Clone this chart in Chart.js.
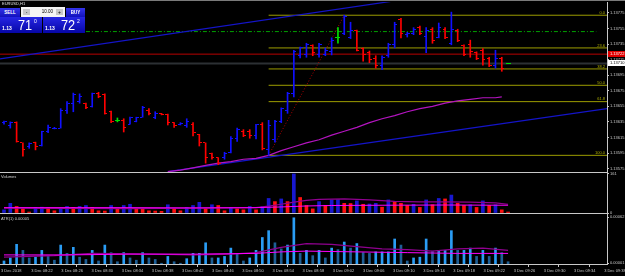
<!DOCTYPE html>
<html>
<head>
<meta charset="utf-8">
<title>EURUSD,H1</title>
<script src="https://cdn.jsdelivr.net/npm/chart.js@4.4.1/dist/chart.umd.min.js"></script>
<style>
  html, body { margin: 0; padding: 0; background: #000; }
  #wrap { position: relative; width: 625px; height: 276px; overflow: hidden; background: #000; }
  canvas { position: absolute; left: 0; }
  .txt { position: absolute; color: #d0d0d0; font-family: "Liberation Sans", sans-serif; font-size: 4px; line-height: 5px; white-space: nowrap; }
  .sep { position: absolute; left: 0; width: 608px; height: 1px; background: #c8c8c8; }
  .btn { position: absolute; top: 8px; height: 9px; background: linear-gradient(#3434ec, #1212bc); color: #fff;
         font: bold 4.5px "Liberation Sans", sans-serif; line-height: 9px; text-align: center; }
  .lot { position: absolute; left: 21px; top: 7px; width: 44px; height: 10px; background: #f4f4f4; }
  .lot .pm { position: absolute; top: 2px; width: 7px; height: 6px; background: #c8c8c8; color: #000; font: 5px "Liberation Sans"; line-height: 6px; text-align: center; }
  .lot .val { position: absolute; right: 12px; top: 0; font: 4.5px "Liberation Sans"; line-height: 10px; color: #000; }
  .quote { position: absolute; top: 17px; width: 42px; height: 16px; background: linear-gradient(#2626e4, #0606a6); color: #fff; }
  .quote span { position: absolute; font-family: "Liberation Sans", sans-serif; }
  .q-small { left: 2px; top: 8px; font-size: 5px; line-height: 6px; font-weight: bold; }
  .q-big { left: 18px; top: 0; font-size: 15px; line-height: 16px; transform: scaleX(0.85); transform-origin: left top; }
  .q-sup { left: 34px; top: 2px; font-size: 5px; line-height: 5px; }
</style>
</head>
<body>
<div id="wrap">
  <canvas id="cPrice" width="625" height="176" style="top:0"></canvas>
  <canvas id="cVol" width="625" height="48" style="top:169px"></canvas>
  <canvas id="cAtr" width="625" height="66" style="top:210px"></canvas>

  <div class="sep" style="top:0;width:625px;background:#7a7a7a"></div>
  <div class="sep" style="top:172px"></div>
  <div class="sep" style="top:213px"></div>

  <div class="txt" style="left:2px;top:1px;color:#e0e0e0">EURUSD,H1</div>
  <div class="btn" style="left:0;width:20px">SELL</div>
  <div class="lot"><span class="pm" style="left:2px">-</span><span class="val">10.00</span><span class="pm" style="right:2px">+</span></div>
  <div class="btn" style="left:66px;width:19px">BUY</div>
  <div class="quote" style="left:0"><span class="q-small">1.13</span><span class="q-big">71</span><span class="q-sup">0</span></div>
  <div class="quote" style="left:43px"><span class="q-small">1.13</span><span class="q-big">72</span><span class="q-sup">2</span></div>

  <div class="txt" style="left:1px;top:174px">Volumes</div>
  <div class="txt" style="left:1px;top:216px">ATR(1) 0.00005</div>
</div>

<script>
// M1 bars, index 0 = 3 Dec 2018 08:18
const opens = [1.13634,1.13630,1.13634,1.13608,1.13603,1.13608,1.13605,1.13622,1.13626,1.13627,
  1.13649,1.13658,1.13661,1.13659,1.13655,1.13672,1.13670,1.13648,1.13637,1.13637,
  1.13632,1.13636,1.13641,1.13650,1.13640,1.13646,1.13645,1.13634,1.13631,1.13630,
  1.13632,1.13619,1.13608,1.13594,1.13589,1.13589,1.13596,1.13613,1.13623,1.13623,
  1.13617,1.13632,1.13599,1.13612,1.13636,1.13650,1.13671,1.13720,1.13721,1.13733,
  1.13721,1.13721,1.13726,1.13743,1.13749,1.13743,1.13753,1.13729,1.13724,1.13717,
  1.13707,1.13720,1.13734,1.13767,1.13747,1.13749,1.13756,1.13745,1.13754,1.13744,
  1.13754,1.13736,1.13753,1.13733,1.13734,1.13724,1.13727,1.13717,1.13707,1.13717,
  1.13710];
const highs = [1.13636,1.13635,1.13635,1.13608,1.13608,1.13609,1.13623,1.13631,1.13628,1.13652,
  1.13661,1.13672,1.13671,1.13659,1.13672,1.13673,1.13671,1.13649,1.13640,1.13639,
  1.13641,1.13641,1.13655,1.13652,1.13648,1.13646,1.13645,1.13634,1.13634,1.13639,
  1.13634,1.13619,1.13608,1.13595,1.13589,1.13596,1.13616,1.13627,1.13625,1.13625,
  1.13632,1.13634,1.13637,1.13637,1.13653,1.13673,1.13727,1.13731,1.13736,1.13734,
  1.13736,1.13730,1.13743,1.13756,1.13772,1.13763,1.13753,1.13730,1.13726,1.13720,
  1.13720,1.13736,1.13763,1.13768,1.13750,1.13756,1.13758,1.13756,1.13756,1.13762,
  1.13756,1.13776,1.13754,1.13734,1.13740,1.13725,1.13729,1.13718,1.13727,1.13718,
  1.13710];
const lows = [1.13632,1.13627,1.13609,1.13591,1.13601,1.13599,1.13604,1.13621,1.13626,1.13627,
  1.13646,1.13648,1.13659,1.13652,1.13654,1.13666,1.13645,1.13634,1.13635,1.13622,
  1.13632,1.13635,1.13641,1.13644,1.13639,1.13644,1.13631,1.13628,1.13631,1.13628,
  1.13617,1.13604,1.13582,1.13587,1.13580,1.13587,1.13595,1.13610,1.13616,1.13614,
  1.13613,1.13599,1.13592,1.13609,1.13634,1.13646,1.13667,1.13717,1.13718,1.13720,
  1.13718,1.13720,1.13721,1.13736,1.13747,1.13742,1.13726,1.13713,1.13711,1.13704,
  1.13702,1.13718,1.13730,1.13743,1.13744,1.13747,1.13747,1.13724,1.13736,1.13743,
  1.13742,1.13734,1.13738,1.13720,1.13718,1.13715,1.13708,1.13706,1.13704,1.13700,
  1.13710];
const closes = [1.13635,1.13634,1.13610,1.13599,1.13607,1.13604,1.13622,1.13628,1.13627,1.13649,
  1.13658,1.13670,1.13668,1.13653,1.13671,1.13667,1.13646,1.13636,1.13637,1.13628,
  1.13640,1.13640,1.13654,1.13646,1.13646,1.13645,1.13634,1.13630,1.13633,1.13636,
  1.13621,1.13609,1.13589,1.13589,1.13582,1.13595,1.13614,1.13625,1.13617,1.13617,
  1.13631,1.13601,1.13630,1.13635,1.13652,1.13671,1.13725,1.13730,1.13734,1.13724,
  1.13735,1.13727,1.13740,1.13743,1.13771,1.13753,1.13727,1.13721,1.13715,1.13707,
  1.13718,1.13734,1.13760,1.13749,1.13749,1.13754,1.13749,1.13752,1.13739,1.13756,
  1.13743,1.13754,1.13740,1.13721,1.13725,1.13717,1.13715,1.13707,1.13717,1.13704,
  1.13710];

const volumes = [13,40,27,17,4,23,24,22,9,17, 27,23,27,31,23,9,8,31,17,31,
  36,17,16,9,8,7,34,17,9,23, 31,44,17,34,31,9,23,17,13,27,
  13,27,60,47,58,47,161,64,31,17, 47,31,54,55,40,39,50,36,37,40,
  24,54,47,40,31,36,23,54,34,60, 58,74,40,31,34,23,50,31,34,13, 4];

const atrValues = [0.00004,0.00008,0.00026,0.00018,0.00008,0.00009,0.00018,0.00010,0.00005,0.00025,
  0.00014,0.00022,0.00009,0.00006,0.00018,0.00004,0.00025,0.00015,0.00003,0.00015,
  0.00008,0.00005,0.00015,0.00008,0.00006,0.00001,0.00010,0.00003,0.00001,0.00007,
  0.00014,0.00014,0.00028,0.00008,0.00008,0.00010,0.00021,0.00014,0.00004,0.00008,
  0.00018,0.00035,0.00044,0.00028,0.00020,0.00025,0.00061,0.00014,0.00018,0.00011,
  0.00018,0.00008,0.00021,0.00019,0.00029,0.00021,0.00027,0.00015,0.00014,0.00016,
  0.00016,0.00016,0.00033,0.00025,0.00004,0.00008,0.00009,0.00033,0.00017,0.00018,
  0.00018,0.00044,0.00018,0.00018,0.00021,0.00010,0.00018,0.00010,0.00021,0.00015,
  0.00003];

// moving average on price (magenta)
const maPriceX = [26,28,30,32,34,36,38,40,42,44,46,48,50,52,54,56,58,60,62,64,66,68,70,72,74,76,78,79];
const maPriceY = [1.13571,1.13573,1.13576,1.13579,1.13582,1.13584,1.13587,1.13588,1.13592,1.13598,
  1.13603,1.13608,1.13612,1.13618,1.13623,1.13628,1.13634,1.13639,1.13643,1.13648,
  1.13652,1.13655,1.13659,1.13662,1.13664,1.13666,1.13666,1.13667];

// volume averages
const volMaFastX = [0,10,20,30,40,42,44,46,48,50,54,58,62,66,70,74,78,80];
const volMaFast  = [20,19,18,20,22,28,36,45,52,56,58,54,48,46,46,45,42,36];
const volMaSlowX = [0,10,20,30,40,44,48,52,60,70,80];
const volMaSlow  = [22,22,22,21,22,25,29,31,32,33,32];

// ATR averages
const atrMaSlowX = [0,10,20,30,40,44,48,56,64,72,80];
const atrMaSlow  = [0.00012,0.00012,0.00013,0.00013,0.00014,0.00016,0.00017,0.00016,0.00015,0.00014,0.00014];
const atrMaFastX = [0,8,14,24,30,36,40,44,48,52,56,60,64,68,72,76,80];
const atrMaFast  = [0.00009,0.00011,0.00014,0.00013,0.00012,0.00013,0.00015,0.00022,0.00027,0.00026,0.00023,0.00020,0.00019,0.00017,0.00020,0.00021,0.00018];

// objects drawn on the price window
const fibLevels = [1.13772,1.13730,1.13703,1.13682,1.13661,1.13592];
const fibNames  = ['0.0','23.6','38.2','50.0','61.8','100.0'];
const fibStartX = 42;
const fibTrend  = [{x:42, y:1.13592}, {x:54, y:1.13772}];
const upperTrend = [{x:-0.635, y:1.13716}, {x:70, y:1.13800}];
const lowerTrend = [{x:26, y:1.13571}, {x:95.7, y:1.13652}];
const dashLevel = 1.13751, dashFromX = 13, dashToX = 94;
const askPrice = 1.13722;
const bidPrice = 1.13710;

const priceTicks = [1.13575,1.13595,1.13615,1.13635,1.13655,1.13675,1.13695,1.13715,1.13735,1.13755,1.13775];
const volTicks = [0, 161];
const atrTicks = [0.00001, 0.00062];
const timeLabels = ['3 Dec 2018','3 Dec 08:22','3 Dec 08:26','3 Dec 08:30','3 Dec 08:34','3 Dec 08:38',
  '3 Dec 08:42','3 Dec 08:46','3 Dec 08:50','3 Dec 08:54','3 Dec 08:58','3 Dec 09:02','3 Dec 09:06',
  '3 Dec 09:10','3 Dec 09:14','3 Dec 09:18','3 Dec 09:22','3 Dec 09:26','3 Dec 09:30','3 Dec 09:34','3 Dec 09:38'];

// layout of the time axis (bar units)
const X_MIN = -0.635, X_MAX = 95.7;
const TICK0 = -0.476, TICK_STEP = 4.786;

const UP = '#1010ff', DOWN = '#ff0000', DOJI = '#00e000';
const AXIS = '#c8c8c8';
const FONT = { size: 4, family: '"Liberation Sans", sans-serif' };

function barColor(i) {
  if (closes[i] > opens[i]) return UP;
  if (closes[i] < opens[i]) return DOWN;
  return DOJI;
}

function rightAxis(min, max, ticks, digits) {
  return {
    position: 'right', min: min, max: max,
    afterBuildTicks: s => { s.ticks = ticks.map(v => ({ value: v })); },
    afterFit: s => { s.width = 18; s.paddingTop = 0; s.paddingBottom = 0; },
    ticks: { autoSkip: false, color: AXIS, font: FONT, padding: 1,
             callback: v => digits ? v.toFixed(digits) : String(v) },
    grid: { drawOnChartArea: false, tickLength: 2, color: AXIS },
    border: { color: AXIS }
  };
}

function hiddenX() {
  return { type: 'linear', display: false, min: X_MIN, max: X_MAX, offset: false };
}

function lineSet(points, color, width, dash) {
  return { type: 'line', data: points, borderColor: color, borderWidth: width || 1,
           borderDash: dash || [], pointRadius: 0, fill: false, tension: 0 };
}

function pairs(xs, ys) { return xs.map((x, k) => ({ x: x, y: ys[k] })); }

const base = {
  responsive: false, maintainAspectRatio: false, animation: false, devicePixelRatio: 1, events: [],
  plugins: { legend: { display: false }, tooltip: { enabled: false } }
};

// open / close ticks of the bars
const ohlcTicks = {
  id: 'ohlcTicks',
  afterDatasetsDraw(chart) {
    const { ctx, chartArea, scales: { x, y } } = chart;
    ctx.save();
    ctx.beginPath();
    ctx.rect(chartArea.left, chartArea.top, chartArea.width, chartArea.height);
    ctx.clip();
    opens.forEach((o, i) => {
      const px = Math.round(x.getPixelForValue(i) - 0.5);
      ctx.fillStyle = barColor(i);
      ctx.fillRect(px - 2, Math.round(y.getPixelForValue(o) - 0.5), 2, 1);
      ctx.fillRect(px + 1, Math.round(y.getPixelForValue(closes[i]) - 0.5), 2, 1);
      if (highs[i] === lows[i]) ctx.fillRect(px, Math.round(y.getPixelForValue(o) - 0.5), 1, 1);
    });
    ctx.restore();
  }
};

// fibo captions and bid / ask boxes on the price scale
const priceMarks = {
  id: 'priceMarks',
  afterDraw(chart) {
    const { ctx, chartArea, scales: { y } } = chart;
    ctx.save();
    ctx.font = '4px "Liberation Sans", sans-serif';
    ctx.textAlign = 'right';
    ctx.textBaseline = 'bottom';
    ctx.fillStyle = '#b0b000';
    fibLevels.forEach((lv, k) => ctx.fillText(fibNames[k], chartArea.right - 2, y.getPixelForValue(lv) - 0.5));
    [[askPrice, '#e00000', '#ffffff'], [bidPrice, '#ffffff', '#000000']].forEach(([p, bg, fg]) => {
      const py = Math.round(y.getPixelForValue(p));
      ctx.fillStyle = bg;
      ctx.fillRect(chartArea.right + 1, py - 3, 17, 6);
      ctx.fillStyle = fg;
      ctx.textAlign = 'left';
      ctx.textBaseline = 'middle';
      ctx.fillText(p.toFixed(5), chartArea.right + 3, py);
    });
    ctx.restore();
  }
};

const hl = opens.map((o, i) => ({ x: i, y: [lows[i], highs[i]] }));
const fibSets = fibLevels.map(lv => lineSet([{ x: fibStartX, y: lv }, { x: X_MAX, y: lv }], '#9c9c00', 1));

new Chart(document.getElementById('cPrice'), {
  type: 'bar',
  data: {
    datasets: [
      { type: 'bar', data: hl, backgroundColor: opens.map((o, i) => barColor(i)), barThickness: 1, grouped: false },
      lineSet(pairs(maPriceX, maPriceY), '#b414c0', 1.2),
      lineSet(upperTrend, '#1414c8', 1.2),
      lineSet(lowerTrend, '#1414c8', 1.2),
      lineSet(fibTrend, '#b00000', 1, [1, 2]),
      lineSet([{ x: dashFromX, y: dashLevel }, { x: dashToX, y: dashLevel }], '#00a000', 1, [4, 2, 1, 2]),
      lineSet([{ x: X_MIN, y: askPrice }, { x: X_MAX, y: askPrice }], '#b80000', 1),
      lineSet([{ x: X_MIN, y: bidPrice }, { x: X_MAX, y: bidPrice }], '#2c3034', 2),
      ...fibSets
    ]
  },
  options: Object.assign({}, base, {
    layout: { padding: { top: 2, bottom: 4, left: 0, right: 0 } },
    scales: { x: hiddenX(), y: rightAxis(1.135706, 1.13789, priceTicks, 5) }
  }),
  plugins: [ohlcTicks, priceMarks]
});

const volColors = volumes.map((v, i) => (i === 0 || v > volumes[i - 1]) ? '#1818d0' : '#ff1010');

new Chart(document.getElementById('cVol'), {
  type: 'bar',
  data: {
    datasets: [
      lineSet(pairs(volMaSlowX, volMaSlow), '#ff00ff', 1),
      lineSet(pairs(volMaFastX, volMaFast), '#900090', 1.2),
      { type: 'bar', data: volumes.map((v, i) => ({ x: i, y: v })), backgroundColor: volColors, barThickness: 3, grouped: false }
    ]
  },
  options: Object.assign({}, base, {
    layout: { padding: { top: 4, bottom: 4, left: 0, right: 0 } },
    scales: { x: hiddenX(), y: rightAxis(0, 165, volTicks, 0) }
  })
});

const atrColors = atrValues.map((v, i) => (i === 0 || v >= atrValues[i - 1]) ? '#2a9cf4' : '#1d5f96');

new Chart(document.getElementById('cAtr'), {
  type: 'bar',
  data: {
    datasets: [
      lineSet(pairs(atrMaSlowX, atrMaSlow), '#ff00ff', 1),
      lineSet(pairs(atrMaFastX, atrMaFast), '#900090', 1.2),
      { type: 'bar', data: atrValues.map((v, i) => ({ x: i, y: v })), backgroundColor: atrColors, barThickness: 2, grouped: false }
    ]
  },
  options: Object.assign({}, base, {
    layout: { padding: { top: 4, bottom: 0, left: 0, right: 0 } },
    scales: {
      x: {
        type: 'linear', min: X_MIN, max: X_MAX, offset: false,
        afterBuildTicks: s => { s.ticks = timeLabels.map((t, k) => ({ value: TICK0 + k * TICK_STEP })); },
        afterFit: s => { s.height = 12; s.paddingLeft = 0; s.paddingRight = 0; },
        ticks: { autoSkip: false, maxRotation: 0, align: 'start', color: AXIS, font: FONT, padding: 1,
                 callback: (v, k) => timeLabels[k] },
        grid: { drawOnChartArea: false, tickLength: 3, color: AXIS },
        border: { color: AXIS }
      },
      y: rightAxis(0, 0.00066, atrTicks, 5)
    }
  })
});
</script>
</body>
</html>
